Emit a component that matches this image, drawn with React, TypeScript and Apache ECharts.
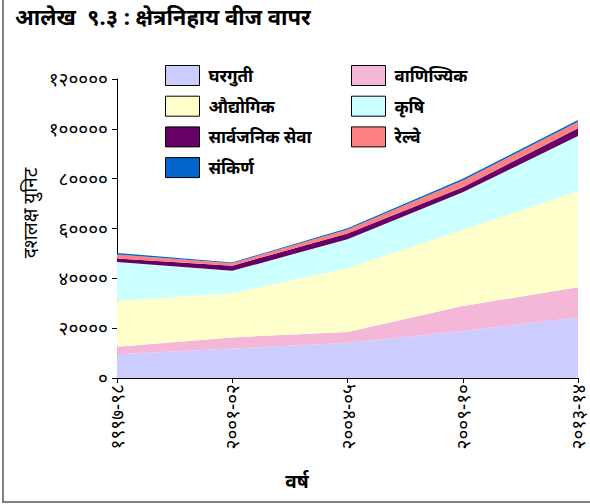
import React, { useEffect, useRef } from "react";
import * as echarts from "echarts";

const years = ["१९९७-९८", "२००१-०२", "२००४-०५", "२००९-१०", "२०१३-१४"];
const domestic = [9500, 11800, 14100, 18900, 24300];
const commercial = [3000, 4500, 4400, 10000, 12100];
const industrial = [18500, 17700, 25600, 30600, 38500];
const agriculture = [15600, 9000, 11600, 15000, 22200];
const publicService = [1400, 2100, 2300, 2100, 3100];
const railway = [1600, 1000, 1600, 2700, 2600];
const misc = [600, 300, 500, 700, 700];
const yTickLabels: Record<number, string> = {
  0: "०",
  20000: "२००००",
  40000: "४००००",
  60000: "६००००",
  80000: "८००००",
  100000: "१०००००",
  120000: "१२००००",
};

const FONT = "'Noto Sans', sans-serif";

export default function App() {
  const ref = useRef<HTMLDivElement>(null);
  useEffect(() => {
    if (!ref.current) return;
    const chart = echarts.init(ref.current, undefined, { renderer: "svg" });
    const mk = (name: string, data: number[], color: string) => ({
      name,
      type: "line",
      stack: "total",
      data,
      color,
      symbol: "none",
      showSymbol: false,
      lineStyle: { width: 0 },
      itemStyle: { color },
      areaStyle: { color, opacity: 1 },
    });
    const legendCommon = {
      orient: "vertical",
      top: 65,
      padding: 0,
      itemWidth: 34,
      itemHeight: 20,
      itemGap: 9.7,
      icon: "rect",
      itemStyle: { borderColor: "#000", borderWidth: 1 },
      textStyle: { fontSize: 17, fontWeight: "bold", color: "#000", fontFamily: FONT, padding: [0, 0, 0, 4] },
    };
    chart.setOption({
      animation: false,
      backgroundColor: "#fff",
      textStyle: { fontFamily: FONT },
      grid: { left: 117, right: 12, top: 79, bottom: 126, containLabel: false },
      legend: [
        { ...legendCommon, left: 165, data: ["घरगुती", "औद्योगिक", "सार्वजनिक सेवा", "संकिर्ण"] },
        { ...legendCommon, left: 351, data: ["वाणिज्यिक", "कृषि", "रेल्वे"] },
      ],
      xAxis: {
        type: "category",
        data: years,
        boundaryGap: false,
        axisLine: { lineStyle: { color: "#000", width: 1 } },
        axisTick: { show: true, length: 5, lineStyle: { color: "#000" } },
        axisLabel: { rotate: 90, fontSize: 19, color: "#000", margin: 6, fontFamily: FONT },
      },
      yAxis: {
        type: "value",
        min: 0,
        max: 120000,
        interval: 20000,
        splitLine: { show: false },
        axisLine: { show: true, lineStyle: { color: "#000", width: 1 } },
        axisTick: { show: true, length: 5, lineStyle: { color: "#000" } },
        axisLabel: {
          fontSize: 19,
          color: "#000",
          margin: 9,
          fontFamily: FONT,
          formatter: (v: number) => yTickLabels[v] ?? String(v),
        },
      },
      graphic: [
        {
          type: "rect",
          shape: { x: 3, y: -10, width: 600, height: 512 },
          style: { fill: "none", stroke: "#808080", lineWidth: 2 },
          silent: true,
        },
        {
          type: "text",
          left: 15,
          top: 5,
          style: { text: "आलेख  ९.३ : क्षेत्रनिहाय वीज वापर", fontSize: 22, fontWeight: "bold", fill: "#000", fontFamily: FONT },
        },
        {
          type: "text",
          x: 30,
          y: 213,
          rotation: Math.PI / 2,
          style: {
            text: "दशलक्ष युनिट",
            fontSize: 19,
            fill: "#000",
            fontFamily: FONT,
            align: "center",
            verticalAlign: "middle",
          },
        },
        {
          type: "text",
          x: 297,
          y: 481,
          style: {
            text: "वर्ष",
            fontSize: 19,
            fontWeight: "bold",
            fill: "#000",
            fontFamily: FONT,
            align: "center",
            verticalAlign: "middle",
          },
        },
      ],
      series: [
        mk("घरगुती", domestic, "#CCCCFF"),
        mk("वाणिज्यिक", commercial, "#F5B7D7"),
        mk("औद्योगिक", industrial, "#FFFFCC"),
        mk("कृषि", agriculture, "#CCFFFF"),
        mk("सार्वजनिक सेवा", publicService, "#660066"),
        mk("रेल्वे", railway, "#FF8080"),
        mk("संकिर्ण", misc, "#0066CC"),
      ],
    });
    return () => chart.dispose();
  }, []);
  return (
    <div
      ref={ref}
      style={{ position: "fixed", left: 0, top: 0, width: 590, height: 504 }}
    />
  );
}
